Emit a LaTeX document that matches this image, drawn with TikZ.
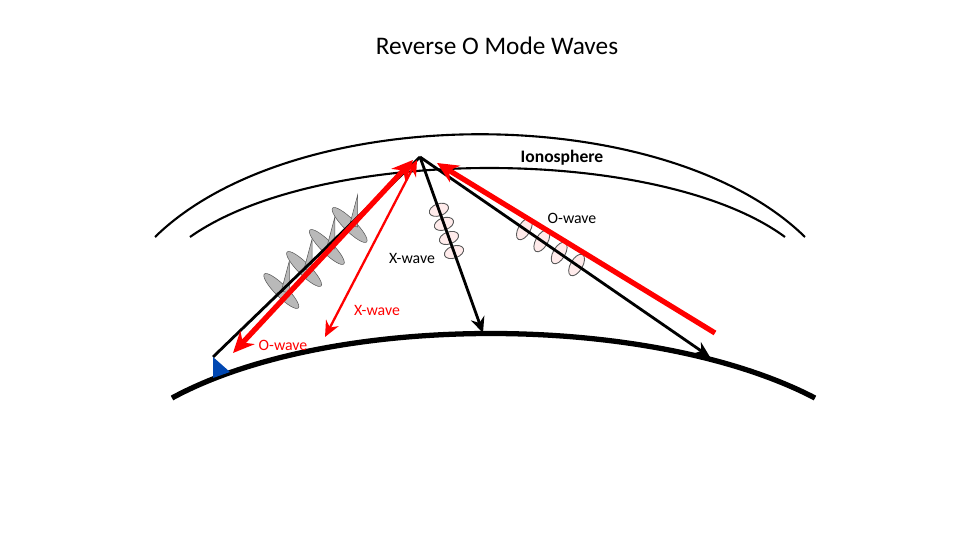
\documentclass[tikz,border=0pt]{standalone}
\usepackage{fontspec}
\setmainfont{Carlito}
\usetikzlibrary{arrows.meta,calc}
\begin{document}
\begin{tikzpicture}[x=0.02cm, y=-0.02cm]
\tikzset{
    layer/.style={line width=1.2pt},
    ground/.style={line width=3pt},
    ray/.style={line width=1.6pt, -{Stealth[length=9pt,width=8pt]}},
    redray/.style={red, line width=3pt, {Stealth[length=12pt,width=11pt]}-{Stealth[length=12pt,width=11pt]}},
    thinray/.style={red, line width=1.3pt, {Stealth[length=9pt,width=8pt]}-{Stealth[length=9pt,width=8pt]}},
    lab/.style={font=\small},
    blade/.style={fill=gray!55, draw=gray!70!black, line width=0.3pt},
    coil/.style={draw=gray!70!black, fill=red!8, line width=0.5pt}
}
\useasboundingbox (0,0) rectangle (960,540);
\node (title) at (497,46) {\Large Reverse O Mode Waves};
% layers and ground
\draw[layer] (155,237) .. controls (295,100) and (665,100) .. (805,237);
\draw[layer] (190,237) .. controls (320,145) and (660,145) .. (785,237);
\draw[ground] (172,398) .. controls (330,312) and (650,312) .. (815,398);
\coordinate (apex) at (420,157);
\coordinate (tx) at (213,357);
\coordinate (a) at (483,333);
\coordinate (b) at (710,357);
% wave sketches
\foreach \t in {0.33,0.44,0.55,0.66}{
  \fill[blade] ($(tx)!\t!(apex)$) ellipse[x radius=24, y radius=6, rotate=-45];
  \fill[blade] ($(tx)!\t!(apex)$) -- ++(8,-30) -- ++(0,32) -- cycle;
}
\foreach \t in {0.3,0.38,0.46,0.54}
  \draw[coil] ($(apex)!\t!(a)$) ellipse[x radius=10, y radius=6, rotate=20];
\foreach \t in {0.36,0.42,0.48,0.54}
  \draw[coil] ($(apex)!\t!(b)$) ellipse[x radius=6, y radius=12, rotate=-30];
% rays
\draw[line width=1.6pt] (apex) -- (tx);
\draw[ray] (apex) -- (a);
\draw[ray] (apex) -- (b);
\draw[redray] (413,160) -- (233,353);
\draw[thinray] (417,160) -- (325,337);
\draw[red, line width=3pt, -{Stealth[length=12pt,width=11pt]}] (715,333) -- (437,163);
\fill[blue!60!cyan!70!black] (213,357) -- (230,372) -- (213,378) -- cycle;
% labels
\node[lab, font=\bfseries] (iono) at (562,158) {Ionosphere};
\node[lab] (o1) at (572,218) {O-wave};
\node[lab] (x1) at (412,258) {X-wave};
\node[lab, red] (x2) at (377,310) {X-wave};
\node[lab, red] (o2) at (283,345) {O-wave};
\end{tikzpicture}
\end{document}
